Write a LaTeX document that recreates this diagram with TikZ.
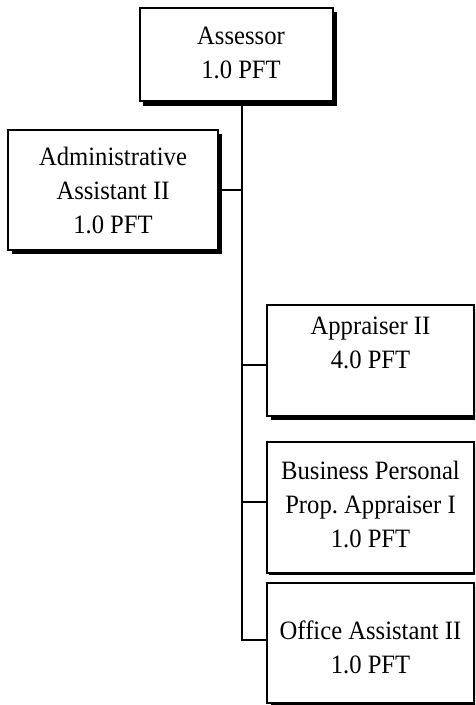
\documentclass[tikz,border=0pt]{standalone}
\usepackage{fontspec}
\setmainfont[FakeStretch=0.93]{Liberation Serif}
\usetikzlibrary{shadows}
\frenchspacing
\begin{document}
\begin{tikzpicture}[x=1pt,y=-1pt,
  box/.style={draw, line width=1.1pt, fill=white, inner sep=0pt},
  sh/.style={general shadow={fill=black, shadow xshift=#1, shadow yshift=-#1}},
  sh/.default=4pt,
  lbl/.style={align=center, inner sep=0pt, font=\fontsize{26.5}{34}\selectfont},
  wire/.style={line width=1.1pt}
]
\useasboundingbox (0,0) rectangle (475,705);
\clip (0,0) rectangle (475,705);

% boxes
\node[box, sh, minimum width=193pt, minimum height=93pt] (ass) at (236.5,54.5) {};
\node[box, sh, minimum width=210pt, minimum height=120pt] (adm) at (113,190) {};
\node[box, sh, minimum width=207pt, minimum height=111pt] (app) at (370.5,360.5) {};
\node[box, sh=2pt, minimum width=207pt, minimum height=131pt] (bpp) at (370.5,507.5) {};
\node[box, sh, minimum width=207pt, minimum height=120pt] (off) at (370.5,643) {};

% labels
\node[lbl] (tass) at (241,53) {Assessor\\1.0 PFT};
\node[lbl] (tadm) at (113,190) {Administrative\\Assistant II\\1.0 PFT};
\node[lbl] (tapp) at (370.5,343) {Appraiser II\\4.0 PFT};
\node[lbl] (tbpp) at (370.5,504) {Business Personal\\Prop. Appraiser I\\1.0 PFT};
\node[lbl] (toff) at (370.5,647) {Office Assistant II\\1.0 PFT};

% trunk line and branches
\coordinate (ttop) at (242,101);
\coordinate (bapp) at (242,365);
\coordinate (bbpp) at (242,502);
\coordinate (boff) at (242,640);
\coordinate (badm) at (242,190);
\draw[wire] (ttop) -- (boff) -- (off.west |- boff);
\draw[wire] (adm.east) -- (badm);
\draw[wire] (bapp) -- (app.west |- bapp);
\draw[wire] (bbpp) -- (bpp.west |- bbpp);
% top box shadow drawn over the start of the trunk
\fill[black] (143,101.5) rectangle (337,105.5);
\end{tikzpicture}
\end{document}
